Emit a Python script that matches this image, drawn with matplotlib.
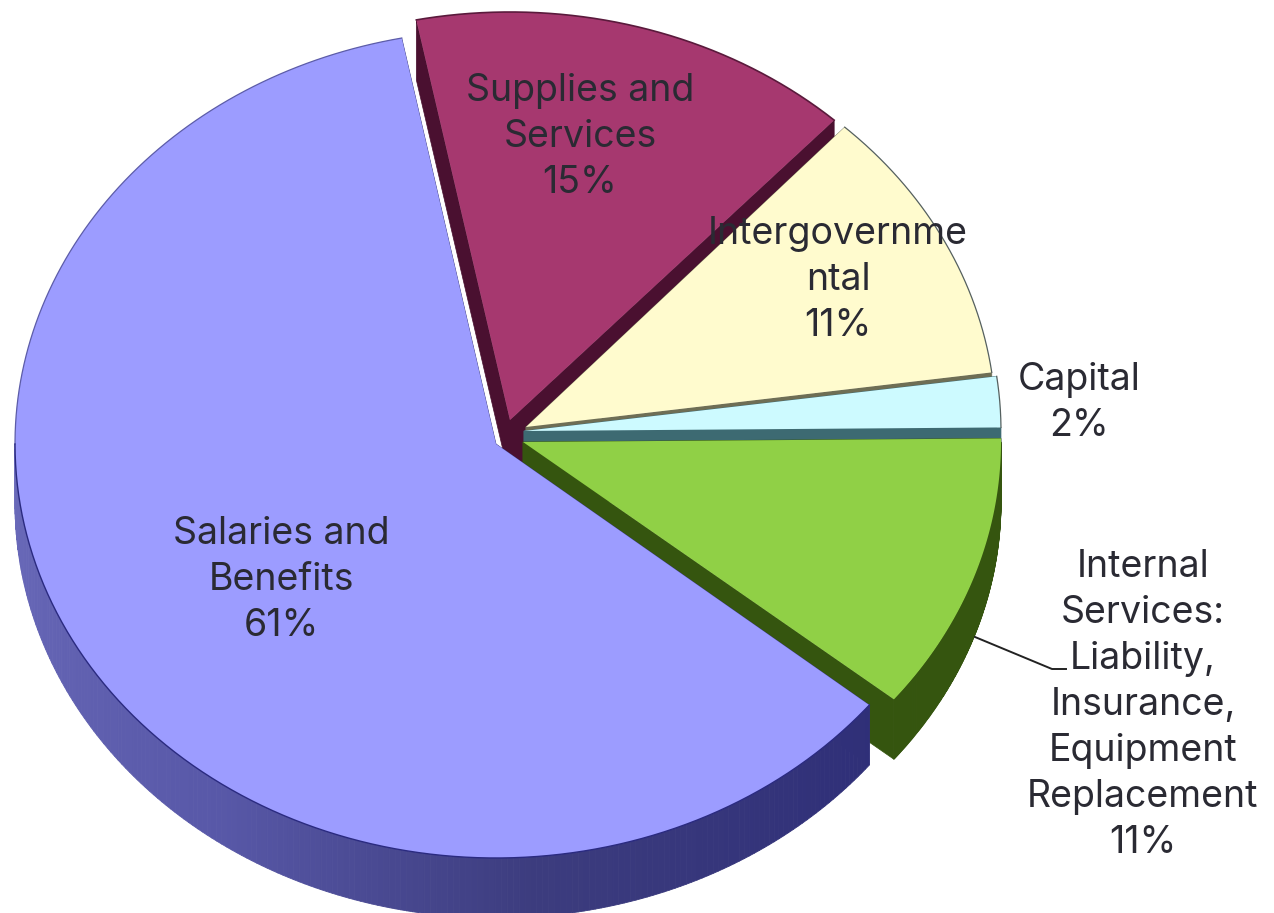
import numpy as np
import matplotlib
matplotlib.use("Agg")
import matplotlib.pyplot as plt
from matplotlib.collections import PolyCollection
from matplotlib.patches import Polygon

# Slices in counter-clockwise order, beginning at the top of the big slice
names = ["Salaries", "Internal", "Capital", "Intergov", "Supplies"]
shares = [61, 11, 2, 11, 15]
top_colors = ["#9C9CFF", "#90D046", "#CDFAFF", "#FFFBCE", "#A6386F"]
wall_colors = ["#3C3C80", "#35550F", "#3D6A72", "#6E6E55", "#4A1030"]

labels = [
    "Salaries and\nBenefits\n61%",
    "Internal\nServices:\nLiability,\nInsurance,\nEquipment\nReplacement\n11%",
    "Capital\n2%",
    "Intergovernme\nntal\n11%",
    "Supplies and\nServices\n15%",
]

# ---------------------------------------------------------------------------
# Layout
# ---------------------------------------------------------------------------
START_DEG = 101.3
DEPTH = 60
# apex x, apex y, radius x, radius y for each slice (slices are pulled apart)
geom = {
    "Salaries": (496, 444, 481, 414),
    "Internal": (523, 442, 478, 408),
    "Capital": (524, 431, 477, 408),
    "Intergov": (526, 427, 470, 408),
    "Supplies": (510, 420, 478, 408),
}
label_pos = {
    "Salaries": (281, 580),
    "Internal": (1143, 705),
    "Capital": (1079, 403),
    "Intergov": (838, 280),
    "Supplies": (580, 137),
}
# order slices get painted, back to front
draw_order = ["Supplies", "Intergov", "Capital", "Internal", "Salaries"]


def arc_xy(g, t1, t2, n=200):
    cx, cy, rx, ry = g
    t = np.radians(np.linspace(t1, t2, n))
    return np.column_stack([cx + rx * np.cos(t), cy - ry * np.sin(t)])


def wall_strip(pts):
    """Thin quads hanging DEPTH px under a run of points."""
    low = pts + [0, DEPTH]
    return [
        [pts[i], pts[i + 1], low[i + 1], low[i]] for i in range(len(pts) - 1)
    ]


def draw_slice(ax, name, t1, t2, top, wall):
    g = geom[name]
    apex = np.array(g[:2], dtype=float)
    outer = arc_xy(g, t1, t2)

    # cut faces on both sides of the slice
    for end in (outer[0], outer[-1]):
        face = [apex, end, end + [0, DEPTH], apex + [0, DEPTH]]
        ax.add_patch(Polygon(face, closed=True, fc=wall, ec=wall, lw=0.5))

    # rim, only where it faces the viewer
    lo = max(t1, 180.0)
    hi = min(t2, 360.0)
    if hi > lo:
        rim = arc_xy(g, lo, hi)
        quads = wall_strip(rim)
        if name == "Salaries":
            # rim of the big slice fades from mid blue to navy
            mids = np.linspace(lo, hi, len(quads))
            r = np.interp(mids, [180, 235, 275, 322], [0x6A, 0x58, 0x3C, 0x2F])
            g_ = np.interp(mids, [180, 235, 275, 322], [0x6A, 0x58, 0x3C, 0x2F])
            b = np.interp(mids, [180, 235, 275, 322], [0xBA, 0xA8, 0x7E, 0x78])
            cols = np.column_stack([r, g_, b]) / 255
        else:
            cols = [wall] * len(quads)
        ax.add_collection(
            PolyCollection(quads, facecolors=cols, edgecolors=cols, linewidths=0.6)
        )

    pts = np.vstack([apex, outer])
    ax.add_patch(Polygon(pts, closed=True, fc=top, ec="none", zorder=2))


fig = plt.figure(figsize=(12.74, 9.13), dpi=100, facecolor="white")
ax = fig.add_axes([0, 0, 1, 1])
ax.set_xlim(0, 1274)
ax.set_ylim(913, 0)
ax.axis("off")

edges = START_DEG + np.concatenate([[0], np.cumsum(shares)]) * 3.6
spans = {n: (edges[i], edges[i + 1]) for i, n in enumerate(names)}
colors = dict(zip(names, zip(top_colors, wall_colors)))

for i, name in enumerate(draw_order):
    t1, t2 = spans[name]
    top, wall = colors[name]
    sub = fig.add_axes(ax.get_position(), sharex=ax, sharey=ax, zorder=i + 1)
    sub.axis("off")
    draw_slice(sub, name, t1, t2, top, wall)

    # thin outlines along the outer edge of the slice
    g = geom[name]
    if name in ("Intergov", "Capital"):
        o = arc_xy(g, t1, t2)
        sub.plot(o[:, 0], o[:, 1], color="#55605F", lw=0.9, zorder=3)
    elif name == "Salaries":
        o = arc_xy(g, t1, 180)
        sub.plot(o[:, 0], o[:, 1], color="#5C5CA8", lw=0.9, zorder=3)
        o = arc_xy(g, 180, t2)
        sub.plot(o[:, 0], o[:, 1], color="#2A2A80", lw=1.0, zorder=3)
    elif name == "Supplies":
        o = arc_xy(g, t1, t2)
        sub.plot(o[:, 0], o[:, 1], color="#5A1A3C", lw=1.2, zorder=3)

# text sits above every slice
over = fig.add_axes(ax.get_position(), sharex=ax, sharey=ax, zorder=20)
over.axis("off")
over.plot([975, 1052, 1066], [637, 669, 669], color="#222222", lw=1.4)
for name, text in zip(names, labels):
    x, y = label_pos[name]
    over.text(
        x, y, text, ha="center", va="center", family="Inter",
        fontsize=27, color="#2A2A33", linespacing=1.36,
    )

fig.savefig("out.png", dpi=100, facecolor="white")
